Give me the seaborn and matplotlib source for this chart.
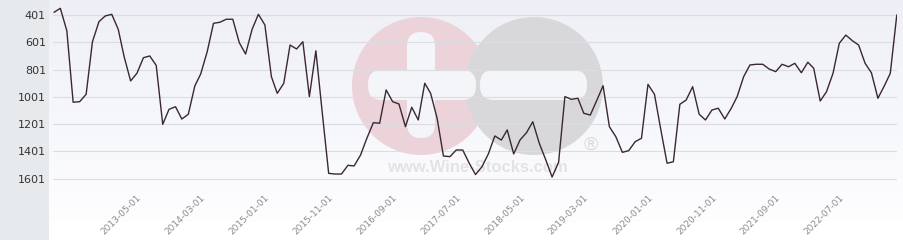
import numpy as np
import pandas as pd
import matplotlib
matplotlib.use("Agg")
import matplotlib.pyplot as plt
import matplotlib.patches as mpatches
import seaborn as sns

# ---- data ----
start_month = "2012-04-01"
ranks = [381, 352, 517, 1040, 1036, 982, 597, 450, 408, 396,
         506, 706, 884, 828, 714, 701, 770, 1202, 1092, 1073,
         1163, 1128, 921, 833, 670, 462, 454, 432, 432, 604,
         687, 506, 396, 474, 853, 975, 901, 621, 650, 597,
         999, 663, 1110, 1561, 1566, 1566, 1502, 1507, 1427, 1304,
         1190, 1194, 950, 1036, 1053, 1219, 1077, 1170, 901, 975,
         1158, 1434, 1439, 1390, 1390, 1487, 1570, 1512, 1419, 1287,
         1317, 1243, 1419, 1317, 1263, 1183, 1341, 1463, 1588, 1480,
         999, 1019, 1011, 1121, 1134, 1030, 919, 1219, 1293, 1407,
         1395, 1329, 1304, 909, 982, 1231, 1487, 1476, 1055, 1024,
         926, 1128, 1170, 1097, 1084, 1163, 1084, 999, 853, 767,
         762, 762, 797, 816, 762, 780, 755, 824, 747, 791,
         1031, 963, 828, 608, 548, 589, 621, 755, 824, 1011,
         919, 828, 401]
ytick_values = [401, 601, 801, 1001, 1201, 1401, 1601]
xtick_labels = ["2013-05-01", "2014-03-01", "2015-01-01", "2015-11-01",
                "2016-09-01", "2017-07-01", "2018-05-01", "2019-03-01",
                "2020-01-01", "2020-11-01", "2021-09-01", "2022-07-01"]

dates = pd.date_range(start_month, periods=len(ranks), freq="MS")
df = pd.DataFrame({"date": dates, "rank": ranks})

sns.set_style("white")
plt.rcParams["font.family"] = ["DejaVu Sans"]

W, H = 904, 240
fig = plt.figure(figsize=(W / 100, H / 100), dpi=100)
fig.patch.set_facecolor("white")

# ---- background layer (pixel coordinates) ----
bg = fig.add_axes([0, 0, 1, 1], zorder=0)
bg.set_xlim(0, W)
bg.set_ylim(H, 0)
bg.axis("off")

grad = np.linspace(0, 1, 256)[:, None]
top = np.array([0.933, 0.941, 0.965])
bot = np.array([0.995, 0.995, 1.0])
img = top[None, None, :] * (1 - grad[..., None]) + bot[None, None, :] * grad[..., None]
bg.imshow(img, extent=(49, W, 222, 0), aspect="auto", zorder=0, interpolation="bilinear")
bg.add_patch(mpatches.Rectangle((0, 0), 49, H, color="#e7eaed", zorder=1, lw=0))

# watermark
bg.add_patch(mpatches.Circle((421, 86), 69, color="#ecd3d9", lw=0, zorder=2))
bg.add_patch(mpatches.Circle((534, 86), 69, color="#d8d8db", lw=0, zorder=3))
bar_kw = dict(boxstyle="round,pad=0,rounding_size=14", color="#f4f5f9", lw=0, zorder=4)
bg.add_patch(mpatches.FancyBboxPatch((407, 32), 28, 106, **bar_kw))
bg.add_patch(mpatches.FancyBboxPatch((368, 70), 108, 30, **bar_kw))
bg.add_patch(mpatches.FancyBboxPatch((480, 70), 107, 30, **bar_kw))
bg.text(477, 167, "www.Wine-Stocks.com", ha="center", va="center",
        fontsize=12, fontweight="bold", color="#e3e3e6",
        family=["Liberation Sans", "DejaVu Sans"], zorder=5)
bg.text(591, 145, "®", ha="center", va="center", fontsize=14,
        color="#d9d9dc", family=["Liberation Sans", "DejaVu Sans"], zorder=5)

# ---- main axes ----
left_px, right_px, top_px, bottom_px = 53, 897, 0, 191
ax = fig.add_axes([left_px / W, 1 - bottom_px / H,
                   (right_px - left_px) / W, (bottom_px - top_px) / H], zorder=1)
ax.set_facecolor("none")

sns.lineplot(data=df, x="date", y="rank", ax=ax, color="#3b2733", lw=1.0, zorder=3)

px_per_unit = 27.3 / 200.0
y_top = 401 - (15 - top_px) / px_per_unit
y_bot = 401 + (bottom_px - 15) / px_per_unit
ax.set_ylim(y_bot, y_top)
ax.set_xlim(dates[0] - pd.Timedelta(days=5), dates[-1] + pd.Timedelta(days=1))

ax.set_yticks(ytick_values)
ax.set_yticklabels([str(v) for v in ytick_values], fontsize=8, color="#333333")
ax.set_xticks(pd.to_datetime(xtick_labels))
ax.set_xticklabels(xtick_labels, rotation=45, ha="right", va="top",
                   rotation_mode="anchor", fontsize=6.5, color="#8c8c8c")
ax.tick_params(axis="y", length=0, pad=5)
ax.tick_params(axis="x", length=0, pad=1.5)
ax.grid(axis="y", color="#dcdde3", lw=0.8, zorder=1)
ax.grid(axis="x", visible=False)
ax.set_axisbelow(True)
for s in ax.spines.values():
    s.set_visible(False)
ax.set_xlabel("")
ax.set_ylabel("")

fig.savefig("out.png", dpi=100)
